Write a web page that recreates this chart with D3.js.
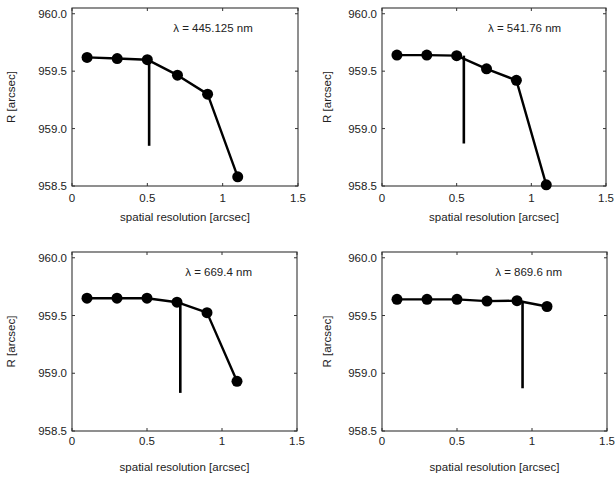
<!DOCTYPE html>
<html>
<head>
<meta charset="utf-8">
<script src="https://cdn.jsdelivr.net/npm/d3@7"></script>
<style>
  html, body { margin: 0; padding: 0; background: #fff; }
  svg { display: block; }
  text { font-family: "Liberation Sans", Arial, Helvetica, sans-serif; fill: #222; }
</style>
</head>
<body>
<svg id="chart" width="615" height="477"></svg>
<script>
// ---- data ----
const resolution = [0.1, 0.3, 0.5, 0.7, 0.9, 1.1];
const wavelengths = ["445.125", "541.76", "669.4", "869.6"];
const radius445 = [959.62, 959.61, 959.60, 959.465, 959.30, 958.58];
const radius541 = [959.64, 959.64, 959.635, 959.52, 959.42, 958.51];
const radius669 = [959.65, 959.65, 959.65, 959.615, 959.525, 958.93];
const radius869 = [959.64, 959.64, 959.64, 959.625, 959.628, 959.578];
// vertical marker line: x position and its [top, bottom] R values
const markerX = [0.512, 0.548, 0.722, 0.937];
const markerTop = [959.60, 959.635, 959.615, 959.627];
const markerBottom = [958.85, 958.87, 958.83, 958.87];
const xTicks = [0, 0.5, 1, 1.5];
const yTicks = [958.5, 959.0, 959.5, 960.0];
const xDomain = [0, 1.5];
const yDomain = [958.5, 960.05];

const series = [radius445, radius541, radius669, radius869];

// panel boxes (layout only)
const panels = [
  { left: 72, right: 298, top: 8, bottom: 186, yTitleX: 11, xTitleY: 221, tickLabY: 202 },
  { left: 382, right: 606, top: 8, bottom: 186, yTitleX: 327, xTitleY: 221, tickLabY: 202 },
  { left: 72, right: 297, top: 252, bottom: 431, yTitleX: 11, xTitleY: 471, tickLabY: 445 },
  { left: 382, right: 607, top: 252, bottom: 431, yTitleX: 327, xTitleY: 471, tickLabY: 445 }
];

const svg = d3.select("#chart");

panels.forEach((p, i) => {
  const x = d3.scaleLinear().domain(xDomain).range([p.left, p.right]);
  const y = d3.scaleLinear().domain(yDomain).range([p.bottom, p.top]);
  const g = svg.append("g");

  // box
  g.append("rect")
    .attr("x", p.left).attr("y", p.top)
    .attr("width", p.right - p.left).attr("height", p.bottom - p.top)
    .attr("fill", "none").attr("stroke", "#333").attr("stroke-width", 1.1);

  // inward ticks (bottom/top, left/right)
  const tl = 3;
  xTicks.forEach(t => {
    g.append("line").attr("x1", x(t)).attr("x2", x(t)).attr("y1", p.bottom).attr("y2", p.bottom - tl)
      .attr("stroke", "#333").attr("stroke-width", 1);
    g.append("line").attr("x1", x(t)).attr("x2", x(t)).attr("y1", p.top).attr("y2", p.top + tl)
      .attr("stroke", "#333").attr("stroke-width", 1);
    g.append("text").attr("x", x(t)).attr("y", p.tickLabY)
      .attr("text-anchor", "middle").attr("font-size", 11.5)
      .text(d3.format("~g")(t));
  });
  yTicks.forEach(t => {
    g.append("line").attr("x1", p.left).attr("x2", p.left + tl).attr("y1", y(t)).attr("y2", y(t))
      .attr("stroke", "#333").attr("stroke-width", 1);
    g.append("line").attr("x1", p.right).attr("x2", p.right - tl).attr("y1", y(t)).attr("y2", y(t))
      .attr("stroke", "#333").attr("stroke-width", 1);
    g.append("text").attr("x", p.left - 5).attr("y", y(t)).attr("dy", "0.35em")
      .attr("text-anchor", "end").attr("font-size", 11.5)
      .text(d3.format(".1f")(t));
  });

  // axis titles
  g.append("text").attr("x", (p.left + p.right) / 2).attr("y", p.xTitleY)
    .attr("text-anchor", "middle").attr("font-size", 11.5)
    .text("spatial resolution [arcsec]");
  g.append("text")
    .attr("transform", `translate(${p.yTitleX},${(p.top + p.bottom) / 2}) rotate(-90)`)
    .attr("dy", "0.35em")
    .attr("text-anchor", "middle").attr("font-size", 11.5)
    .text("R [arcsec]");

  // wavelength label
  g.append("text").attr("x", x(1.2)).attr("y", y(959.84))
    .attr("text-anchor", "end").attr("font-size", 11.5)
    .text(`λ = ${wavelengths[i]} nm`);

  const pts = resolution.map((r, k) => [r, series[i][k]]);

  // vertical marker line
  g.append("line")
    .attr("x1", x(markerX[i])).attr("x2", x(markerX[i]))
    .attr("y1", y(markerTop[i])).attr("y2", y(markerBottom[i]))
    .attr("stroke", "#000").attr("stroke-width", 2.6);

  // curve
  g.append("path").datum(pts)
    .attr("d", d3.line().x(d => x(d[0])).y(d => y(d[1])))
    .attr("fill", "none").attr("stroke", "#000").attr("stroke-width", 2.4)
    .attr("stroke-linejoin", "round");

  g.selectAll("circle.pt").data(pts).enter().append("circle")
    .attr("class", "pt")
    .attr("cx", d => x(d[0])).attr("cy", d => y(d[1])).attr("r", 5.5)
    .attr("fill", "#000");
});
</script>
</body>
</html>
